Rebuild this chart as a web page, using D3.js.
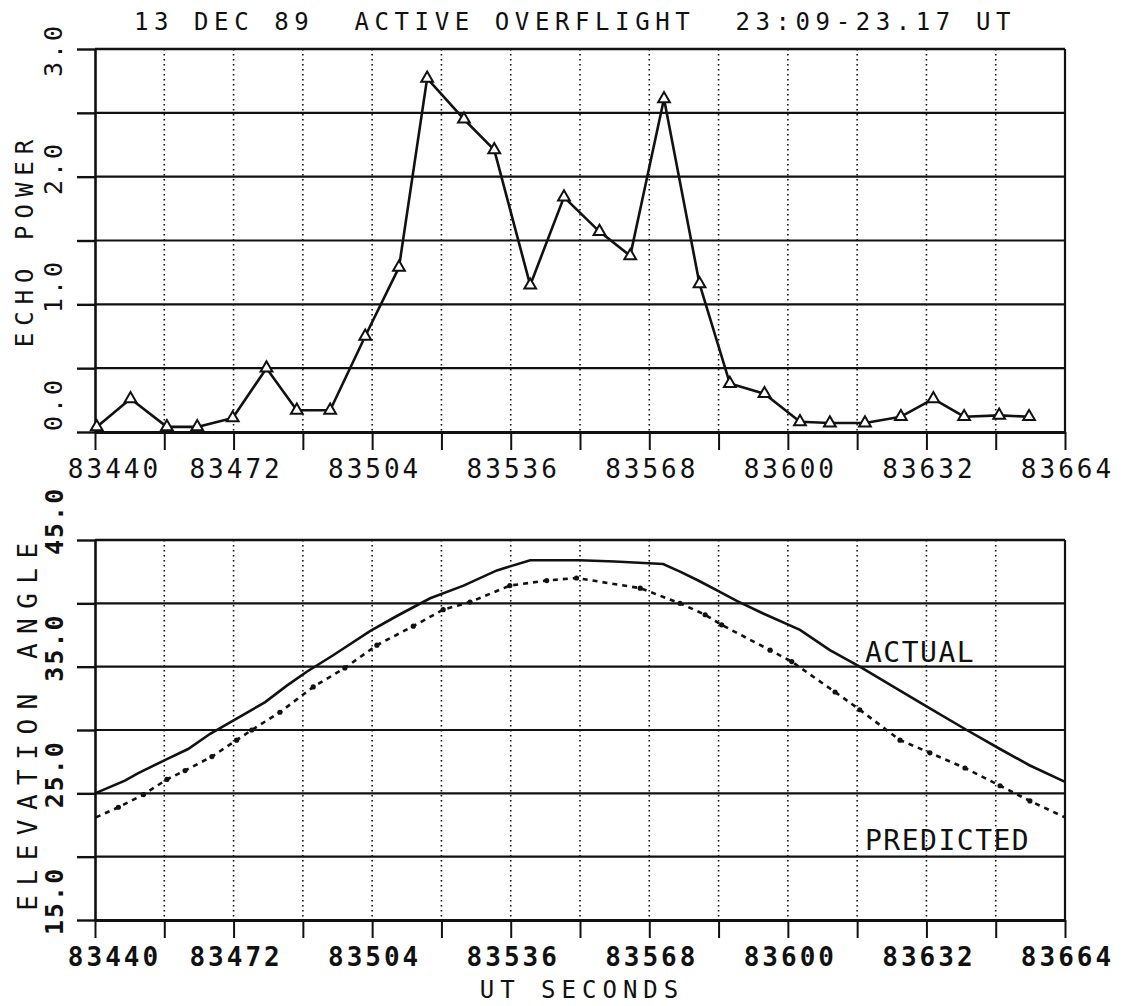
<!DOCTYPE html>
<html>
<head>
<meta charset="utf-8">
<script src="https://cdn.jsdelivr.net/npm/d3@7"></script>
<style>
  body { margin: 0; background: #fff; }
  svg { display: block; background: #fff; }
  text { font-family: "DejaVu Sans Mono", monospace; fill: #111; }
</style>
</head>
<body>
<svg id="chart" width="1126" height="1006"></svg>
<script>
// ---- data ----
// echo power samples (UT seconds / power)
const echoTimes = [83440.4, 83448.2, 83456.6, 83463.6, 83471.8, 83479.6, 83486.6, 83494.3,
  83502.4, 83510.2, 83516.7, 83525.2, 83532.2, 83540.5, 83548.3, 83556.5, 83563.6, 83571.4,
  83579.6, 83586.6, 83594.6, 83602.8, 83609.7, 83617.8, 83626.1, 83633.6, 83640.7, 83648.8, 83655.7];
const echoPower = [0.04, 0.26, 0.04, 0.04, 0.11, 0.50, 0.17, 0.17,
  0.75, 1.29, 2.77, 2.45, 2.21, 1.15, 1.84, 1.57, 1.38, 2.61,
  1.16, 0.38, 0.30, 0.08, 0.07, 0.07, 0.12, 0.26, 0.12, 0.13, 0.12];

// elevation angle, actual (solid)
const actualTimes = [83440, 83446.9, 83450.0, 83456.6, 83461.5, 83466.6, 83472.7, 83479.3,
  83484.3, 83488.9, 83495.0, 83503.5, 83509.7, 83517.4, 83525.1, 83532.8, 83540.5, 83552.0,
  83560.0, 83571.2, 83575.1, 83579.3, 83584.3, 83588.2, 83594.3, 83602.8, 83609.7, 83616.6,
  83625.9, 83632.8, 83641.3, 83649.0, 83655.9, 83664];
const actualAngle = [25.0, 26.0, 26.6, 27.7, 28.5, 29.7, 30.9, 32.2,
  33.5, 34.6, 35.9, 37.8, 39.0, 40.4, 41.4, 42.6, 43.4, 43.4,
  43.3, 43.1, 42.5, 41.8, 40.9, 40.2, 39.2, 37.9, 36.3, 35.0,
  33.1, 31.7, 30.0, 28.5, 27.2, 25.9];

// elevation angle, predicted (dotted)
const predictedTimes = [83440.2, 83445.4, 83451.2, 83456.6, 83460.8, 83467.0, 83472.7, 83476.2,
  83482.7, 83490.4, 83497.7, 83505.1, 83513.5, 83520.4, 83526.6, 83535.8, 83544.3, 83551.2,
  83565.9, 83575.1, 83580.9, 83584.7, 83595.9, 83600.9, 83610.9, 83616.6, 83625.9, 83632.8,
  83640.9, 83649.0, 83655.9, 83664];
const predictedAngle = [23.1, 23.9, 24.9, 26.1, 26.8, 27.9, 29.2, 30.0,
  31.4, 33.4, 34.9, 36.7, 38.2, 39.5, 40.1, 41.4, 41.8, 42.0,
  41.2, 40.0, 39.1, 38.3, 36.3, 35.4, 33.0, 31.6, 29.2, 28.2,
  27.0, 25.6, 24.4, 23.1];

// ticks and labels
const timeTicks = d3.range(83440, 83665, 16);
const timeLabels = [83440, 83472, 83504, 83536, 83568, 83600, 83632, 83664];
const powerTicks = [0, 0.5, 1, 1.5, 2, 2.5, 3];
const powerLabels = [0, 1, 2, 3];
const angleTicks = [15, 20, 25, 30, 35, 40, 45];
const angleLabels = [15, 25, 35, 45];

const titleText = "13 DEC 89  ACTIVE OVERFLIGHT  23:09-23.17 UT";

// ---- layout ----
const svg = d3.select('#chart');
const ink = '#111';

const x = d3.scaleLinear().domain([83440, 83664]).range([95, 1065]);
const yPower = d3.scaleLinear().domain([0, 3]).range([432, 49]);
const yAngle = d3.scaleLinear().domain([15, 45]).range([920, 540]);
// the plotter put the power labels a bit off the ticks
const yPowerLabel = d3.scaleLinear().domain([0, 3]).range([431, 77]);

function drawFrame(y, yTicks) {
    const [y0, y1] = y.range();
    const g = svg.append('g');

    // vertical dotted grid
    g.selectAll('.vgrid')
        .data(timeTicks.slice(1, -1))
        .enter()
        .append('line')
        .attr('x1', d => x(d)).attr('x2', d => x(d))
        .attr('y1', y1).attr('y2', y0)
        .attr('stroke', ink)
        .attr('stroke-width', 1.6)
        .attr('stroke-dasharray', '1.5,3.5');

    // horizontal grid
    g.selectAll('.hgrid')
        .data(yTicks)
        .enter()
        .append('line')
        .attr('x1', x.range()[0]).attr('x2', x.range()[1])
        .attr('y1', d => y(d)).attr('y2', d => y(d))
        .attr('stroke', ink)
        .attr('stroke-width', (d, i) => (i === yTicks.length - 1 ? 2.6 : 2.1));

    // right border
    g.append('line')
        .attr('x1', x.range()[1]).attr('x2', x.range()[1])
        .attr('y1', y1).attr('y2', y0)
        .attr('stroke', ink).attr('stroke-width', 2.2);

    // bottom axis
    const xAxis = g.append('g')
        .attr('transform', `translate(0,${y0})`)
        .call(d3.axisBottom(x).tickValues(timeTicks).tickSize(18).tickSizeOuter(0)
            .tickFormat(d => (timeLabels.includes(d) ? d : '')));
    xAxis.select('.domain').attr('stroke', ink).attr('stroke-width', 3);
    xAxis.selectAll('.tick line').attr('stroke', ink).attr('stroke-width', 2);

    // left axis
    const yAxis = g.append('g')
        .attr('transform', `translate(${x.range()[0]},0)`)
        .call(d3.axisLeft(y).tickValues(yTicks).tickSize(18).tickSizeOuter(0).tickFormat(''));
    yAxis.select('.domain').attr('stroke', ink).attr('stroke-width', 2.6);
    yAxis.selectAll('.tick line').attr('stroke', ink).attr('stroke-width', 2.4);

    return xAxis;
}

function styleTimeLabels(xAxis, bold) {
    xAxis.selectAll('.tick text')
        .attr('y', 46)
        .attr('dy', 0)
        .attr('dx', (d, i) => (i === 0 ? 19 : 2))
        .attr('fill', ink)
        .style('font-family', '"DejaVu Sans Mono", monospace')
        .style('font-size', '26px')
        .style('font-weight', bold ? 'bold' : 'normal')
        .style('letter-spacing', '3px');
}

// ---- top panel: echo power ----
const topAxis = drawFrame(yPower, powerTicks);
styleTimeLabels(topAxis, false);

svg.selectAll('.plabel')
    .data(powerLabels)
    .enter()
    .append('text')
    .attr('transform', d => `translate(62,${yPowerLabel(d)}) rotate(-90)`)
    .attr('text-anchor', 'start')
    .style('font-size', '25px')
    .style('letter-spacing', '3px')
    .text(d => d3.format('.1f')(d));

const echoData = echoTimes.map((t, i) => ({ t: t, v: echoPower[i] }));
const echoLine = d3.line().x(d => x(d.t)).y(d => yPower(d.v));

svg.append('path')
    .datum(echoData)
    .attr('d', echoLine)
    .attr('fill', 'none')
    .attr('stroke', ink)
    .attr('stroke-width', 2.6)
    .attr('stroke-linejoin', 'round');

svg.selectAll('.tri')
    .data(echoData)
    .enter()
    .append('path')
    .attr('d', d3.symbol(d3.symbolTriangle, 60))
    .attr('transform', d => `translate(${x(d.t)},${yPower(d.v)})`)
    .attr('fill', '#fff')
    .attr('stroke', ink)
    .attr('stroke-width', 2);

// ---- bottom panel: elevation angle ----
const bottomAxis = drawFrame(yAngle, angleTicks);
styleTimeLabels(bottomAxis, true);

svg.selectAll('.alabel')
    .data(angleLabels)
    .enter()
    .append('text')
    .attr('transform', d => `translate(63,${yAngle(d) + 15}) rotate(-90)`)
    .attr('text-anchor', 'start')
    .style('font-size', '25px')
    .style('font-weight', 'bold')
    .style('letter-spacing', '2px')
    .text(d => d3.format('.1f')(d));

const actualData = actualTimes.map((t, i) => ({ t: t, v: actualAngle[i] }));
const predictedData = predictedTimes.map((t, i) => ({ t: t, v: predictedAngle[i] }));
const angleLine = d3.line().x(d => x(d.t)).y(d => yAngle(d.v));

svg.append('path')
    .datum(actualData)
    .attr('d', angleLine)
    .attr('fill', 'none')
    .attr('stroke', ink)
    .attr('stroke-width', 2.6);

svg.append('path')
    .datum(predictedData)
    .attr('d', angleLine)
    .attr('fill', 'none')
    .attr('stroke', ink)
    .attr('stroke-width', 2.6)
    .attr('stroke-dasharray', '5,5');

svg.selectAll('.pdot')
    .data(predictedData.slice(1, -1))
    .enter()
    .append('circle')
    .attr('cx', d => x(d.t))
    .attr('cy', d => yAngle(d.v))
    .attr('r', 2.6)
    .attr('fill', ink);

// curve names
svg.append('text')
    .attr('x', 865).attr('y', 662)
    .style('font-size', '28px')
    .style('letter-spacing', '1.5px')
    .text('ACTUAL');

svg.append('text')
    .attr('x', 865).attr('y', 850)
    .style('font-size', '28px')
    .style('letter-spacing', '1.5px')
    .text('PREDICTED');

// ---- titles ----
svg.append('text')
    .attr('x', 575).attr('y', 30)
    .attr('text-anchor', 'middle')
    .attr('xml:space', 'preserve')
    .style('white-space', 'pre')
    .style('font-size', '24px')
    .style('letter-spacing', '5.6px')
    .text(titleText);

svg.append('text')
    .attr('transform', 'translate(33,240) rotate(-90)')
    .attr('text-anchor', 'middle')
    .style('font-size', '24px')
    .style('letter-spacing', '7px')
    .text('ECHO POWER');

svg.append('text')
    .attr('transform', 'translate(37,722) rotate(-90)')
    .attr('text-anchor', 'middle')
    .style('font-size', '26px')
    .style('letter-spacing', '9.5px')
    .text('ELEVATION ANGLE');

svg.append('text')
    .attr('x', 582).attr('y', 998)
    .attr('text-anchor', 'middle')
    .style('font-size', '24px')
    .style('letter-spacing', '6px')
    .text('UT SECONDS');
</script>
</body>
</html>
